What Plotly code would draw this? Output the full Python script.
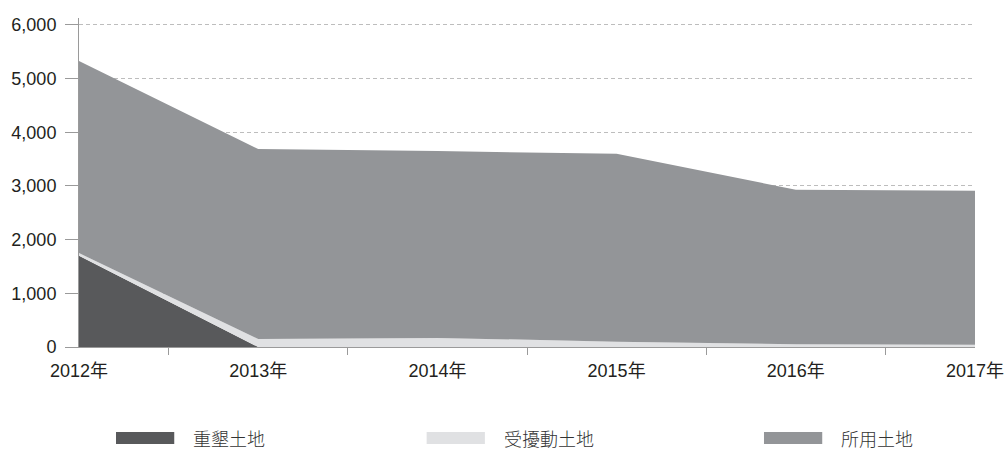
import plotly.graph_objects as go

categories = ["2012年", "2013年", "2014年", "2015年", "2016年", "2017年"]
series_names = ["重墾土地", "受擾動土地", "所用土地"]
reclaimed = [1700, 0, 0, 0, 0, 0]
disturbed = [50, 150, 170, 100, 50, 40]
used = [3580, 3540, 3480, 3500, 2880, 2870]
series_values = [reclaimed, disturbed, used]
colors = ["#58595b", "#e0e1e3", "#939598"]

FONT = "Liberation Sans, Arial, Noto Sans CJK TC, sans-serif"
TEXT = "#231f20"
AX = "#9a9a9a"

x = list(range(len(categories)))
fig = go.Figure()
for name, vals, col in zip(series_names, series_values, colors):
    fig.add_trace(go.Scatter(
        x=x, y=vals, name=name, mode="lines", stackgroup="one",
        line=dict(width=0, color=col), fillcolor=col, showlegend=False,
        hoverinfo="skip"))

# legend drawn as wide swatches with labels (paper coordinates)
sw_x0 = [0.0413, 0.388, 0.7645]
sw_w = 0.065
txt_x = [0.1261, 0.473, 0.849]
for i, (name, col) in enumerate(zip(series_names, colors)):
    fig.add_shape(type="rect", xref="paper", yref="paper",
                  x0=sw_x0[i], x1=sw_x0[i] + sw_w, y0=-0.2584, y1=-0.2948,
                  fillcolor=col, line=dict(width=0))
    fig.add_annotation(xref="paper", yref="paper", x=txt_x[i], y=-0.2766,
                       text=name, showarrow=False, xanchor="left", yanchor="middle",
                       borderpad=0,
                       font=dict(size=18, color="#333333", family="Noto Sans CJK TC", weight=300))

fig.update_layout(
    template="none",
    width=1008, height=450,
    margin=dict(l=79, r=33, t=18, b=103, autoexpand=False),
    paper_bgcolor="white", plot_bgcolor="white",
    font=dict(family=FONT, size=18, color=TEXT),
    showlegend=False,
)
fig.update_xaxes(
    automargin=False,
    range=[0, len(categories) - 1], tickmode="array", tickvals=x, ticktext=categories,
    ticks="", showgrid=False, showline=True, linecolor=AX, linewidth=1,
    ticklabelstandoff=7,
    minor=dict(tickmode="array", tickvals=[i + 0.5 for i in x[:-1]],
               ticks="outside", ticklen=7, tickcolor=AX, tickwidth=1, showgrid=False),
    zeroline=False,
)
fig.update_yaxes(
    automargin=False,
    range=[0, 6130], tickmode="array", tickvals=[0, 1000, 2000, 3000, 4000, 5000, 6000],
    tickformat=",d", ticks="outside", ticklen=13, tickcolor=AX, tickwidth=1,
    showline=True, linecolor=AX, linewidth=1, ticklabelstandoff=5,
    showgrid=True, gridcolor="#bdbdbd", griddash="4px,3px", gridwidth=1,
    zeroline=False,
)
fig.write_html("out.html", config={"displayModeBar": False},
               post_script="document.body.style.margin='0';document.body.style.overflow='hidden';")
